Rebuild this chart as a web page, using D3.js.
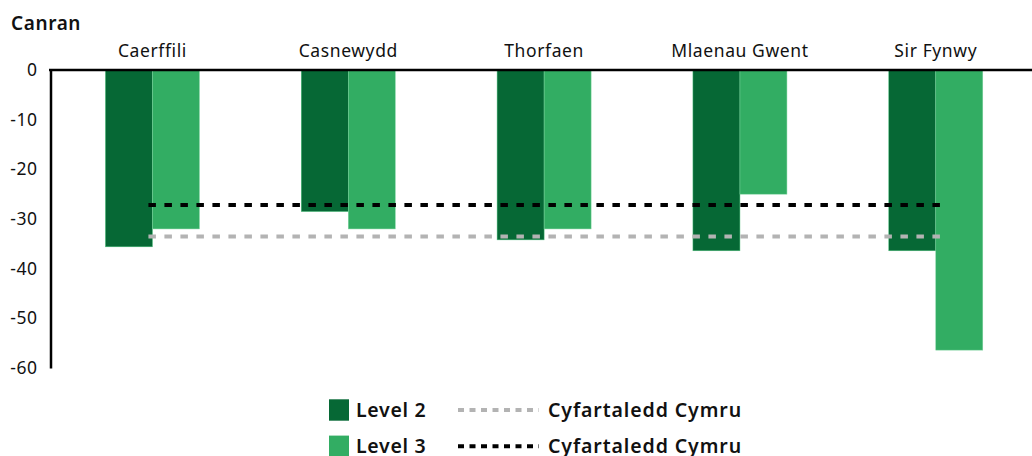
<!DOCTYPE html>
<html>
<head>
<meta charset="utf-8">
<script src="https://cdn.jsdelivr.net/npm/d3@7"></script>
<style>
  body { margin: 0; background: #fff; }
  text { font-family: "Noto Sans", sans-serif; fill: #111; }
</style>
</head>
<body>
<div id="chart"></div>
<script>
const categories = ["Caerffili", "Casnewydd", "Thorfaen", "Mlaenau Gwent", "Sir Fynwy"];
const level2 = [-35.6, -28.5, -34.2, -36.4, -36.4];
const level3 = [-32.0, -32.0, -32.0, -25.0, -56.4];
const walesAvgLevel2 = -33.5;
const walesAvgLevel3 = -27.2;
const yTicks = [0, -10, -20, -30, -40, -50, -60];
const seriesNames = ["Level 2", "Level 3"];
const avgLabel = "Cyfartaledd Cymru";

const width = 1032, height = 456;
const darkGreen = "#066835", lightGreen = "#32ad63", grey = "#b3b3b3";

const svg = d3.select("#chart").append("svg")
    .attr("width", width)
    .attr("height", height);

const x = d3.scaleBand()
    .domain(categories)
    .range([54.5, 1033.7])
    .paddingInner(0.52)
    .paddingOuter(0.26);

const y = d3.scaleLinear()
    .domain([-60, 0])
    .range([368, 70]);

const barW = x.bandwidth() / 2;

// bars
const groups = svg.append("g").selectAll("g")
    .data(categories)
    .enter().append("g")
    .attr("transform", d => `translate(${x(d)},0)`);

groups.append("rect")
    .attr("x", 0)
    .attr("y", y(0))
    .attr("width", barW)
    .attr("height", (d, i) => y(level2[i]) - y(0))
    .attr("fill", darkGreen)
    .attr("stroke", "#4fbf7c")
    .attr("stroke-width", 0.5);

groups.append("rect")
    .attr("x", barW)
    .attr("y", y(0))
    .attr("width", barW)
    .attr("height", (d, i) => y(level3[i]) - y(0))
    .attr("fill", lightGreen)
    .attr("stroke", "#7fd3a0")
    .attr("stroke-width", 0.5);

// Wales average lines
const lineX0 = x(categories[0]) + barW - 4;
const lineX1 = x(categories[categories.length - 1]) + barW + 8;

svg.append("line")
    .attr("x1", lineX0).attr("x2", lineX1)
    .attr("y1", y(walesAvgLevel2)).attr("y2", y(walesAvgLevel2))
    .attr("stroke", grey)
    .attr("stroke-width", 4)
    .attr("stroke-dasharray", "7.5,8.5");

svg.append("line")
    .attr("x1", lineX0).attr("x2", lineX1)
    .attr("y1", y(walesAvgLevel3)).attr("y2", y(walesAvgLevel3))
    .attr("stroke", "#000")
    .attr("stroke-width", 4)
    .attr("stroke-dasharray", "7.5,8.5");

// y axis
const yAxis = svg.append("g")
    .attr("transform", "translate(50.5,0)")
    .call(d3.axisLeft(y).tickValues(yTicks).tickFormat(d => String(d))
        .tickSize(0).tickSizeOuter(0).tickPadding(13));
yAxis.select(".domain").attr("stroke", "#000").attr("stroke-width", 2.5);
yAxis.selectAll("text")
    .style("font-family", "'Noto Sans', sans-serif")
    .style("font-size", "17.5px")
    .style("letter-spacing", "0.5px")
    .attr("fill", "#111");

// top zero line
svg.append("line")
    .attr("x1", 49).attr("x2", width)
    .attr("y1", y(0)).attr("y2", y(0))
    .attr("stroke", "#000")
    .attr("stroke-width", 2.5);

// category labels along top
svg.append("g").selectAll("text")
    .data(categories)
    .enter().append("text")
    .attr("x", d => x(d) + x.bandwidth() / 2)
    .attr("y", 56.5)
    .attr("text-anchor", "middle")
    .style("font-size", "17.5px")
    .style("letter-spacing", "0.6px")
    .text(d => d);

svg.append("text")
    .attr("x", 11)
    .attr("y", 30)
    .style("font-size", "19px")
    .style("font-weight", "600")
    .style("letter-spacing", "0.6px")
    .text("Canran");

// legend
const legend = svg.append("g");
const rows = [
    { name: seriesNames[0], color: darkGreen, line: grey },
    { name: seriesNames[1], color: lightGreen, line: "#000" }
];
rows.forEach((r, i) => {
    const cy = 410 + i * 36.3;
    legend.append("rect")
        .attr("x", 329).attr("y", cy - 10.7)
        .attr("width", 20).attr("height", 21.4)
        .attr("fill", r.color);
    legend.append("text")
        .attr("x", 356).attr("y", cy + 6.5)
        .style("font-size", "19.5px")
        .style("font-weight", "600")
        .style("letter-spacing", "0.7px")
        .text(r.name);
    legend.append("line")
        .attr("x1", 458).attr("x2", 539)
        .attr("y1", cy).attr("y2", cy)
        .attr("stroke", r.line)
        .attr("stroke-width", 4)
        .attr("stroke-dasharray", "6,5.5");
    legend.append("text")
        .attr("x", 548).attr("y", cy + 6.5)
        .style("font-size", "19.5px")
        .style("font-weight", "600")
        .style("letter-spacing", "0.9px")
        .text(avgLabel);
});
</script>
</body>
</html>
